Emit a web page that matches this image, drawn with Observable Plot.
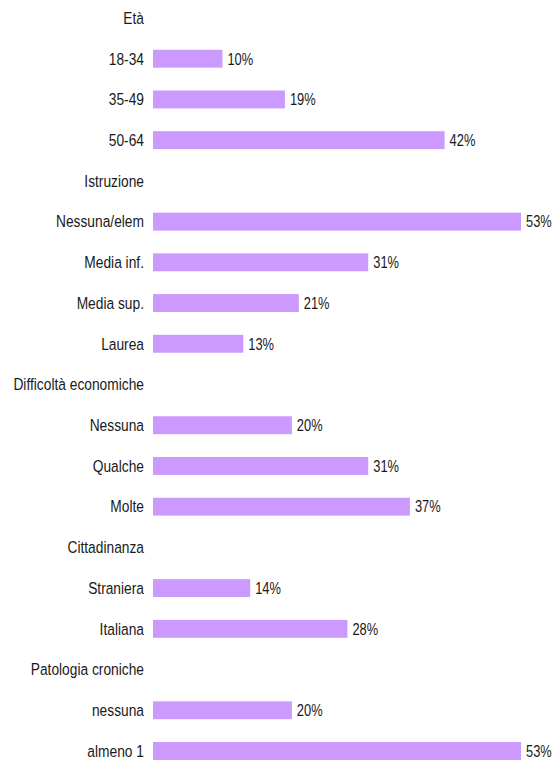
<!DOCTYPE html>
<html><head><meta charset="utf-8">
<script src="https://cdn.jsdelivr.net/npm/d3@7"></script>
<script src="https://cdn.jsdelivr.net/npm/@observablehq/plot@0.6"></script>
<style>body{margin:0;background:#fff}</style>
</head><body><div id="chart"></div>
<script>
// Row order (headers and categories), top to bottom
const rows = ["Età","18-34","35-49","50-64","Istruzione","Nessuna/elem","Media inf.","Media sup.","Laurea","Difficoltà economiche","Nessuna","Qualche","Molte","Cittadinanza","Straniera","Italiana","Patologia croniche","nessuna","almeno 1"];
const categories = ["18-34","35-49","50-64","Nessuna/elem","Media inf.","Media sup.","Laurea","Nessuna","Qualche","Molte","Straniera","Italiana","nessuna","almeno 1"];
const values = [10,19,42,53,31,21,13,20,31,37,14,28,20,53];

const data = categories.map((c, i) => ({cat: c, value: values[i]}));
const FONT = "'Liberation Sans',Arial,sans-serif";

const chart = Plot.plot({
  width: 555,
  height: 763,
  marginLeft: 153,
  marginRight: 34,
  marginTop: 0,
  marginBottom: 0,
  style: {fontFamily: FONT, fontSize: "16.5px", color: "#1a1a1a", background: "#fff"},
  x: {domain: [0, 53], axis: null},
  y: {domain: rows, range: [-2.36, 771.36], padding: 0, round: false, tickSize: 0, tickPadding: 9.5, label: null},
  marks: [
    Plot.barX(data, {x: "value", y: "cat", fill: "#CC99FF", insetTop: 11.4, insetBottom: 11.4}),
    Plot.text(data, {x: "value", y: "cat", text: d => d.value + "%", textAnchor: "start", dx: 4.5, fill: "#1a1a1a", className: "vlab"})
  ]
});
// condense the text horizontally (narrow face is not installed)
chart.querySelectorAll("text").forEach(t => {
  const tr = t.getAttribute("transform") || "";
  const isVal = t.closest(".vlab") != null;
  t.setAttribute("transform", tr + (isVal ? " scale(0.78,1)" : " scale(0.835,1)"));
});
document.getElementById("chart").appendChild(chart);
</script>
</body></html>
